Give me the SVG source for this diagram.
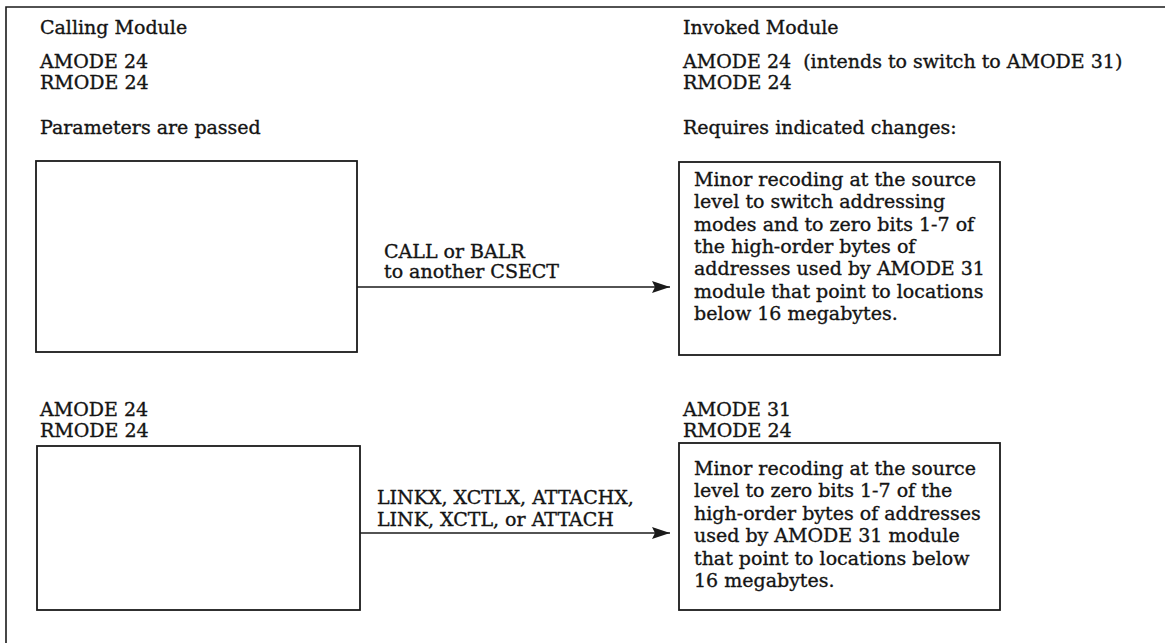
<svg xmlns="http://www.w3.org/2000/svg" width="1165" height="643" viewBox="0 0 1165 643">
  <style>
    text { font-family: "DejaVu Serif", "Liberation Serif", serif; font-size: 19px; fill: #141414; stroke: #141414; stroke-width: 0.35; white-space: pre; }
    .frame { stroke: #1a1a1a; stroke-width: 1.6; fill: none; }
    .box { stroke: #1a1a1a; stroke-width: 1.8; fill: #ffffff; }
    .conn { stroke: #1a1a1a; stroke-width: 1.6; fill: none; }
  </style>
  <defs>
    <marker id="arrow" viewBox="0 0 18 12" refX="18" refY="6" markerWidth="18" markerHeight="12" markerUnits="userSpaceOnUse" orient="auto">
      <path d="M0,0 L18,6 L0,12 L3,6 Z" fill="#1a1a1a"/>
    </marker>
  </defs>

  <rect width="1165" height="643" fill="#ffffff"/>

  <!-- open frame: top and left edges only -->
  <path class="frame" d="M6,643 L6,7 L1165,7"/>

  <!-- column headings and mode settings, upper pair -->
  <g id="caller-heading">
    <text x="40" y="34">Calling Module</text>
    <text x="40" y="68">AMODE 24</text>
    <text x="40" y="89">RMODE 24</text>
    <text x="40" y="134">Parameters are passed</text>
  </g>
  <g id="invoked-heading">
    <text x="683" y="34">Invoked Module</text>
    <text x="683" y="68">AMODE 24  (intends to switch to AMODE 31)</text>
    <text x="683" y="89">RMODE 24</text>
    <text x="683" y="134">Requires indicated changes:</text>
  </g>

  <!-- upper pair -->
  <g id="caller-1">
    <rect class="box" x="36" y="161" width="321" height="191"/>
  </g>
  <g id="invoked-1">
    <rect class="box" x="679" y="162" width="321" height="193"/>
    <text x="694" y="186">Minor recoding at the source</text>
    <text x="694" y="208">level to switch addressing</text>
    <text x="694" y="231">modes and to zero bits 1-7 of</text>
    <text x="694" y="253">the high-order bytes of</text>
    <text x="694" y="275">addresses used by AMODE 31</text>
    <text x="694" y="298">module that point to locations</text>
    <text x="694" y="320">below 16 megabytes.</text>
  </g>

  <!-- lower pair -->
  <g id="caller-2">
    <text x="40" y="416">AMODE 24</text>
    <text x="40" y="437">RMODE 24</text>
    <rect class="box" x="37" y="446" width="323" height="164"/>
  </g>
  <g id="invoked-2">
    <text x="683" y="416">AMODE 31</text>
    <text x="683" y="437">RMODE 24</text>
    <rect class="box" x="679" y="443" width="321" height="167"/>
    <text x="694" y="475">Minor recoding at the source</text>
    <text x="694" y="497">level to zero bits 1-7 of the</text>
    <text x="694" y="520">high-order bytes of addresses</text>
    <text x="694" y="542">used by AMODE 31 module</text>
    <text x="694" y="565">that point to locations below</text>
    <text x="694" y="587">16 megabytes.</text>
  </g>

  <!-- connectors -->
  <g id="connectors">
    <line class="conn" x1="357" y1="287" x2="670" y2="287" marker-end="url(#arrow)"/>
    <text x="384" y="258">CALL or BALR</text>
    <text x="384" y="278">to another CSECT</text>
    <line class="conn" x1="360" y1="533" x2="670" y2="533" marker-end="url(#arrow)"/>
    <text x="377" y="504">LINKX, XCTLX, ATTACHX,</text>
    <text x="377" y="526">LINK, XCTL, or ATTACH</text>
  </g>
</svg>
